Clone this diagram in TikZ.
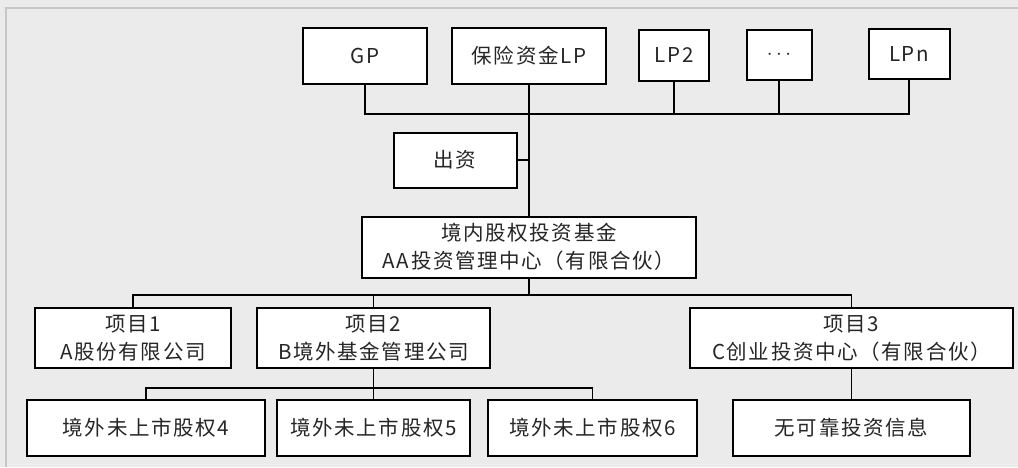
\documentclass[tikz,border=0pt]{standalone}
\usepackage{fontspec}
\setmainfont{Noto Sans CJK SC}
\newfontfamily\boxfont[LetterSpace=8]{Noto Sans CJK SC}
\begin{document}
\begin{tikzpicture}[x=1pt,y=-1pt,
  box/.style={draw=black,line width=2pt,fill=white,rectangle,inner sep=0pt,align=center,
    font=\boxfont\fontsize{20.5}{28}\selectfont,text=black!85},
  link/.style={draw=black,line width=1.8pt}]
\useasboundingbox (0,0) rectangle (1018,467);
\fill[black!8] (0,0) rectangle (1018,467);
\draw[black!22,line width=1.5pt] (6,467) -- (6,8) -- (1018,8);
% top row
\node[box,minimum width=124pt,minimum height=56pt] (gp) at (365,56) {GP};
\node[box,minimum width=154pt,minimum height=56pt] (ins) at (529,56) {保险资金LP};
\node[box,minimum width=70pt,minimum height=51pt] (lp2) at (674,55) {LP2};
\node[box,minimum width=65pt,minimum height=50pt] (dots) at (779,55) {$\cdots$};
\node[box,minimum width=81pt,minimum height=50pt] (lpn) at (909,54) {LPn};
\node[box,minimum width=123pt,minimum height=55pt] (chuzi) at (455,160) {出资};
\node[box,minimum width=334pt,minimum height=61pt] (fund) at (529,247) {境内股权投资基金\\AA投资管理中心（有限合伙）};
% second row
\node[box,minimum width=196pt,minimum height=60pt] (p1) at (133,338) {项目1\\A股份有限公司};
\node[box,minimum width=233pt,minimum height=60pt] (p2) at (373.5,338) {项目2\\B境外基金管理公司};
\node[box,minimum width=323pt,minimum height=60pt] (p3) at (851.5,338) {项目3\\C创业投资中心（有限合伙）};
% third row
\node[box,minimum width=238pt,minimum height=56pt] (b4) at (146,428) {境外未上市股权4};
\node[box,minimum width=193pt,minimum height=56pt] (b5) at (373.5,428) {境外未上市股权5};
\node[box,minimum width=209pt,minimum height=56pt] (b6) at (592.5,428) {境外未上市股权6};
\node[box,minimum width=237pt,minimum height=56pt] (b7) at (851.5,428) {无可靠投资信息};
% connectors
\coordinate (bus1) at (529,114);
\coordinate (bus2) at (529,295);
\coordinate (bus3) at (373.5,388);
\draw[link] (gp.south) |- (bus1) -| (lpn.south);
\draw[link] (lp2.south) -- (lp2.south |- bus1);
\draw[link] (dots.south) -- (dots.south |- bus1);
\draw[link] (ins.south) -- (fund.north);
\draw[link] (chuzi.east) -- (chuzi.east -| fund.north);
\draw[link] (fund.south) -- (bus2);
\draw[link] (p1.north) |- (bus2) -| (p3.north);
\draw[link] (p2.north) -- (p2.north |- bus2);
\draw[link] (p2.south) -- (b5.north);
\draw[link] (b4.north) |- (bus3) -| (b6.north);
\draw[link] (p3.south) -- (b7.north);
\end{tikzpicture}
\end{document}
